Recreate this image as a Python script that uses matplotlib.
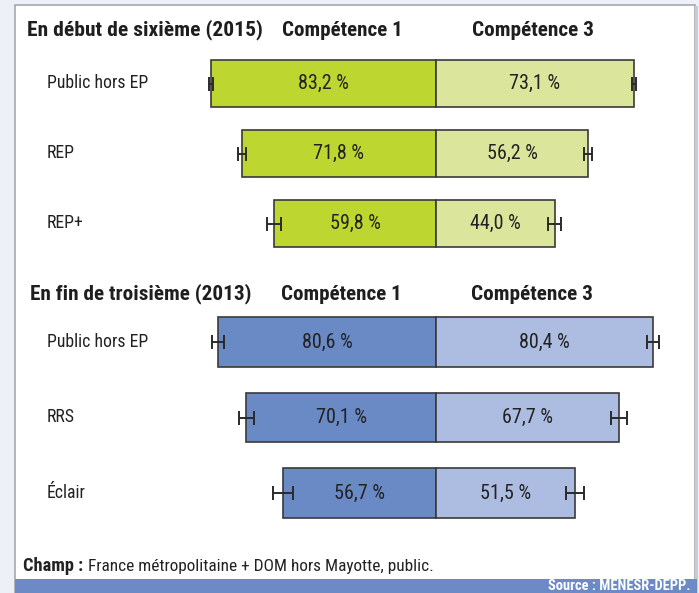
import matplotlib
matplotlib.use("Agg")
import matplotlib.pyplot as plt
from matplotlib import font_manager
from matplotlib.patches import Rectangle
import numpy as np

# ---- data ----
groups_top = ["Public hors EP", "REP", "REP+"]
comp1_top = [83.2, 71.8, 59.8]
comp3_top = [73.1, 56.2, 44.0]
err1_top = [0.6, 1.5, 2.6]
err3_top = [0.7, 1.6, 2.4]

groups_bot = ["Public hors EP", "RRS", "Éclair"]
comp1_bot = [80.6, 70.1, 56.7]
comp3_bot = [80.4, 67.7, 51.5]
err1_bot = [2.1, 2.7, 3.7]
err3_bot = [2.2, 2.8, 3.4]

title_top = "En début de sixième (2015)"
title_bot = "En fin de troisième (2013)"
col_heads = ["Compétence 1", "Compétence 3"]

names = {f.name for f in font_manager.fontManager.ttflist}
STRETCH = "normal"
narrow = None
for cand in ["Liberation Sans Narrow", "Roboto Condensed", "Open Sans Condensed",
             "Noto Sans Condensed", "DejaVu Sans Condensed"]:
    if cand in names:
        narrow = cand
        break
if narrow is None:
    narrow = "DejaVu Sans"
    STRETCH = "condensed"
FAM = [narrow, "DejaVu Sans"]

W, H = 699, 593
fig = plt.figure(figsize=(W / 100, H / 100), dpi=100)
fig.patch.set_facecolor("#edf0f8")
renderer = fig.canvas.get_renderer()


def fx(px):
    return px / W


def fy(py):
    return 1 - py / H


def fit(t, target_w):
    """scale font size so the text spans target_w pixels"""
    t.set_fontsize(12)
    w = t.get_window_extent(renderer=renderer).width
    t.set_fontsize(12 * target_w / w)
    return t


def ftext(x, y, s, target_w=None, size=12, **kw):
    kw.setdefault("family", FAM)
    kw.setdefault("fontstretch", STRETCH)
    kw.setdefault("color", "#222222")
    t = fig.text(x, y, s, fontsize=size, **kw)
    if target_w:
        fit(t, target_w)
    return t


# panel
fig.add_artist(Rectangle((fx(15), fy(593)), fx(695) - fx(15), fy(5) - fy(593),
                         transform=fig.transFigure, facecolor="white",
                         edgecolor="#a8a8a8", linewidth=1.2, zorder=0))
fig.add_artist(Rectangle((fx(695), fy(593)), fx(2.5), fy(6) - fy(593),
                         transform=fig.transFigure, facecolor="#c8ccd6",
                         edgecolor="none", zorder=0))
# bottom strip
fig.add_artist(Rectangle((fx(15), 0), fx(697) - fx(15), fy(579),
                         transform=fig.transFigure, facecolor="#6b8ac6",
                         edgecolor="none", zorder=1))
ftext(fx(690), fy(586.5), "Source : MENESR-DEPP.", target_w=143, color="white",
      fontweight="bold", ha="right", va="center")

champ = ftext(fx(23), fy(566), "Champ :", target_w=60, fontweight="bold",
              ha="left", va="center")
ftext(fx(88), fy(566), "France métropolitaine + DOM hors Mayotte, public.",
      target_w=346, ha="left", va="center")

center_px = 436.0
ppu = 2.704  # pixels per percent
xl = (-center_px / ppu, (W - center_px) / ppu)

val_ref = ftext(0, 0, "83,2 %", target_w=51)
VAL_SIZE = val_ref.get_fontsize()
val_ref.remove()
lab_ref = ftext(0, 0, "Public hors EP", target_w=101)
LAB_SIZE = lab_ref.get_fontsize()
lab_ref.remove()


def panel(top_px, bot_px, groups, c1, c3, e1, e3, dark, light, barh):
    ax = fig.add_axes([0, fy(bot_px), 1, (bot_px - top_px) / H])
    ax.set_xlim(*xl)
    ax.set_ylim(len(groups) - 0.5, -0.5)
    ax.axis("off")
    y = np.arange(len(groups))
    c1 = np.array(c1)
    c3 = np.array(c3)
    ax.barh(y, -c1, height=barh, color=dark, edgecolor="#3a3a3a", linewidth=1.2, zorder=2)
    ax.barh(y, c3, height=barh, color=light, edgecolor="#3a3a3a", linewidth=1.2, zorder=2)
    ax.errorbar(-c1, y, xerr=e1, fmt="none", ecolor="#2a2a2a", elinewidth=1.4,
                capsize=5, capthick=1.4, zorder=3)
    ax.errorbar(c3, y, xerr=e3, fmt="none", ecolor="#2a2a2a", elinewidth=1.4,
                capsize=5, capthick=1.4, zorder=3)
    for i in range(len(groups)):
        for v in (-c1[i], c3[i]):
            ax.text(v / 2, y[i], f"{abs(v):.1f} %".replace(".", ","), ha="center",
                    va="center", fontsize=VAL_SIZE, family=FAM, fontstretch=STRETCH,
                    color="#222222", zorder=4)
        ax.text(fx(47), y[i], groups[i], transform=ax.get_yaxis_transform(),
                ha="left", va="center", fontsize=LAB_SIZE, family=FAM,
                fontstretch=STRETCH, color="#222222")
    return ax


panel(48.5, 258.5, groups_top, comp1_top, comp3_top, err1_top, err3_top,
      "#bdd630", "#dbe69c", 0.671)
panel(304.25, 530.75, groups_bot, comp1_bot, comp3_bot, err1_bot, err3_bot,
      "#6a8ac6", "#adbde1", 0.662)

for ty, title, c1x, c3x, tx, tw in [(30, title_top, 342, 533, 27, 235),
                                    (294, title_bot, 341, 532, 30, 222)]:
    ftext(fx(tx), fy(ty), title, target_w=tw, fontweight="bold", ha="left",
          va="center", color="#1e1e1e")
    ftext(fx(c1x), fy(ty), col_heads[0], target_w=120, fontweight="bold", ha="center",
          va="center", color="#1e1e1e")
    ftext(fx(c3x), fy(ty), col_heads[1], target_w=122, fontweight="bold", ha="center",
          va="center", color="#1e1e1e")

fig.savefig("out.png", dpi=100, facecolor=fig.get_facecolor())
